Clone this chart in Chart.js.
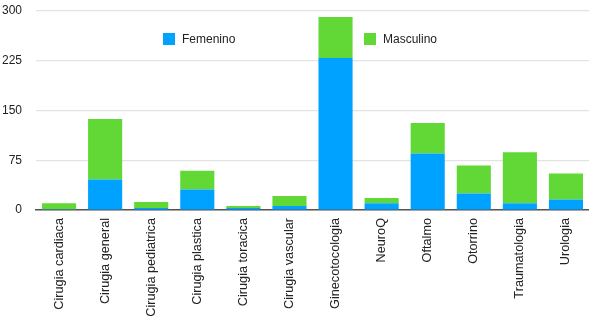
<!DOCTYPE html>
<html>
<head>
<meta charset="utf-8">
<script src="https://cdn.jsdelivr.net/npm/chart.js@4.4.0/dist/chart.umd.min.js"></script>
<style>
  html, body { margin: 0; padding: 0; background: #fff; }
  #wrap { width: 589px; height: 316px; position: relative; }
</style>
</head>
<body>
<div id="wrap"><canvas id="myChart"></canvas></div>
<script>
// Data
const servicios = ["Cirugia cardiaca", "Cirugia general", "Cirugia pediatrica", "Cirugia plastica",
  "Cirugia toracica", "Cirugia vascular", "Ginecotocologia", "NeuroQ", "Oftalmo", "Otorrino",
  "Traumatologia", "Urologia"];
const femenino = [1, 46, 3, 31, 3, 6, 229, 10, 85, 25, 10, 16];
const masculino = [9, 91, 9, 28, 3, 15, 62, 8, 46, 42, 77, 39];
const yTicks = [0, 75, 150, 225, 300];

const FONT = "'Liberation Sans', Arial, Helvetica, sans-serif";
const ctx = document.getElementById('myChart');

// legend drawn inside the plot, two items far apart
const legendInside = {
  id: 'legendInside',
  afterDraw(chart) {
    const c = chart.ctx;
    const spots = [163, 364];
    c.save();
    c.font = "12px " + FONT;
    c.textBaseline = "middle";
    chart.data.datasets.forEach(function (ds, i) {
      c.fillStyle = ds.backgroundColor;
      c.fillRect(spots[i], 33, 12, 12);
      c.fillStyle = "#222";
      c.fillText(ds.label, spots[i] + 19, 40);
    });
    c.restore();
  }
};

new Chart(ctx, {
  type: 'bar',
  data: {
    labels: servicios,
    datasets: [
      { label: 'Femenino', data: femenino, backgroundColor: '#00A2FF' },
      { label: 'Masculino', data: masculino, backgroundColor: '#61D836' }
    ]
  },
  options: {
    responsive: true,
    maintainAspectRatio: false,
    animation: false,
    categoryPercentage: 1,
    barPercentage: 0.74,
    layout: { padding: { top: 11, right: 0, left: 0, bottom: 0 } },
    plugins: {
      legend: { display: false },
      tooltip: { enabled: false }
    },
    scales: {
      x: {
        stacked: true,
        grid: { display: false },
        border: { display: true, color: '#555', width: 1.5 },
        ticks: {
          minRotation: 90,
          maxRotation: 90,
          autoSkip: false,
          padding: 0,
          color: '#222',
          font: { family: FONT, size: 12.7 }
        },
        afterFit(scale) { scale.height = 106; }
      },
      y: {
        stacked: true,
        min: 0,
        max: 300,
        afterBuildTicks(scale) { scale.ticks = yTicks.map(v => ({ value: v })); },
        grid: { color: '#e3e3e3', lineWidth: 1.2, drawTicks: false },
        border: { display: false },
        ticks: {
          padding: 14,
          color: '#222',
          font: { family: FONT, size: 12 }
        },
        afterFit(scale) {
          scale.width = 36;
          // tick padding would otherwise push the plot top down
          scale.paddingTop = 0;
          scale.paddingBottom = 0;
        }
      }
    }
  },
  plugins: [legendInside]
});
</script>
</body>
</html>
